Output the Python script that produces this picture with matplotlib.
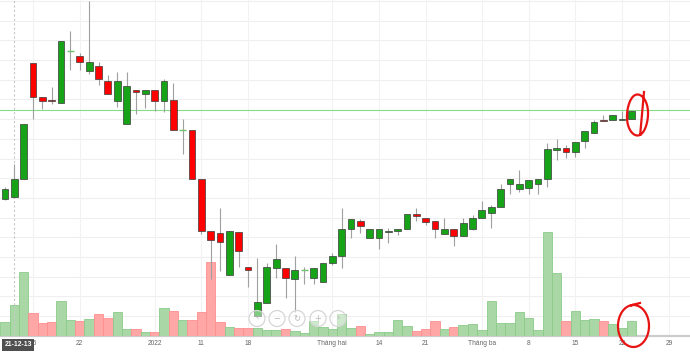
import matplotlib
matplotlib.use("Agg")
import matplotlib.pyplot as plt
import numpy as np
import pandas as pd
from matplotlib.patches import Rectangle, Ellipse
from matplotlib.lines import Line2D

# ---------------- data ----------------
holidays = ["2022-01-03", "2022-01-31", "2022-02-01", "2022-02-02", "2022-02-03", "2022-02-04"]
calendar = [d.strftime("%Y-%m-%d") for d in pd.bdate_range("2021-12-10", "2022-03-31")]
axis_dates = [d for d in calendar if d not in holidays]
dates = axis_dates[:68]  # 2021-12-10 .. 2022-03-23

opens = [26.10, 26.30, 28.07, 39.67, 36.27, 36.03, 35.67, 40.90, 40.43, 38.93,
         39.40, 37.93, 35.93, 33.60, 37.00, 36.63, 37.00, 35.93, 36.00, 33.00,
         33.00, 28.07, 22.90, 22.67, 18.50, 22.80, 19.30, 14.43, 15.73, 19.23,
         19.23, 18.10, 19.00, 18.17, 17.83, 19.67, 20.43, 23.07, 23.93, 22.23,
         22.17, 22.77, 22.90, 23.10, 24.60, 24.17, 23.90, 22.63, 23.07, 22.40,
         23.10, 24.17, 24.73, 25.33, 27.57, 27.07, 27.17, 27.57, 28.07, 31.00,
         31.17, 30.77, 31.93, 32.73, 34.00, 34.00, 34.00, 34.07]
highs = [27.33, 29.60, 33.60, 39.67, 36.27, 37.27, 41.93, 42.87, 40.67, 45.90,
         39.77, 38.47, 38.83, 38.83, 37.00, 37.00, 37.00, 38.07, 37.73, 34.07,
         33.00, 28.07, 22.90, 25.23, 22.90, 22.80, 19.30, 20.23, 19.73, 21.57,
         19.23, 20.43, 19.27, 19.17, 19.67, 20.67, 25.25, 24.10, 24.13, 23.13,
         23.07, 23.17, 23.10, 24.60, 25.17, 24.17, 23.90, 24.17, 23.07, 24.17,
         24.50, 25.90, 25.55, 27.57, 28.07, 29.00, 28.00, 28.07, 31.73, 32.07,
         31.50, 31.83, 32.93, 34.00, 34.50, 34.50, 34.93, 34.90]
lows = [26.00, 26.20, 28.07, 34.07, 35.13, 35.57, 35.67, 39.00, 39.00, 38.60,
        37.50, 36.63, 35.33, 33.60, 34.57, 35.17, 34.93, 34.83, 33.00, 30.60,
        28.07, 22.60, 18.07, 18.93, 18.50, 19.33, 17.27, 14.43, 15.73, 18.23,
        16.23, 14.83, 17.57, 17.60, 17.83, 19.50, 19.17, 22.23, 22.73, 22.23,
        21.10, 21.73, 22.50, 23.10, 23.93, 23.50, 22.23, 22.63, 21.43, 22.40,
        23.00, 24.17, 23.17, 25.33, 26.60, 26.83, 26.60, 26.60, 27.27, 30.00,
        30.17, 30.27, 31.23, 32.73, 33.87, 34.00, 34.00, 34.07]
closes = [27.10, 28.10, 33.60, 36.33, 35.93, 35.87, 41.93, 40.90, 39.77, 39.83,
          38.07, 36.63, 37.93, 37.43, 36.77, 37.00, 35.93, 37.93, 33.00, 33.00,
          28.07, 22.90, 22.03, 21.83, 22.90, 20.93, 18.97, 15.77, 19.30, 20.10,
          18.17, 19.00, 19.00, 19.17, 19.67, 20.40, 23.07, 24.10, 23.43, 23.13,
          23.07, 22.93, 23.10, 24.60, 24.40, 23.83, 23.10, 23.07, 22.43, 23.73,
          24.17, 25.00, 25.33, 27.10, 28.07, 27.60, 28.00, 28.07, 31.07, 31.17,
          30.83, 31.83, 32.93, 33.83, 33.87, 34.50, 34.07, 34.90]
volumes = [342, 768, 1608, 582, 325, 358, 868, 408, 368, 425,
           558, 442, 608, 182, 182, 108, 88, 688, 632, 392,
           392, 595, 1838, 338, 230, 192, 212, 200, 155, 145,
           180, 125, 82, 370, 220, 180, 562, 195, 255, 62,
           90, 90, 388, 255, 125, 165, 370, 165, 225, 275,
           300, 162, 875, 325, 325, 612, 450, 138, 2600, 1575,
           375, 625, 400, 425, 375, 300, 188, 375]  # thousand shares

ref_price = 35.0
hover_date = "2021-12-13"
tooltip_text = "21-12-13"
tick_dates = ["2021-12-15", "2021-12-22", "2022-01-04", "2022-01-11", "2022-01-18",
              "2022-02-07", "2022-02-14", "2022-02-21", "2022-03-01", "2022-03-08",
              "2022-03-15", "2022-03-22", "2022-03-29"]
tick_labels = ["15", "22", "2022", "11", "18", "Tháng hai", "14", "21",
               "Tháng ba", "8", "15", "22", "29"]

# ---------------- figure ----------------
W, H = 690, 352
fig = plt.figure(figsize=(W / 100, H / 100), dpi=100)
pos = [0, 16 / H, 1, 336 / H]
axg = fig.add_axes(pos)
axv = fig.add_axes(pos, sharex=axg)
ax = fig.add_axes(pos, sharex=axg)
for a in (axv, ax):
    a.patch.set_alpha(0)
    a.set_axis_off()

PRICE_LIM = (12.4, 46.0)
axg.set_ylim(*PRICE_LIM)
ax.set_ylim(*PRICE_LIM)
axv.set_ylim(0, 8400)
axg.set_xlim(-0.535, 73.26)

pos_of = {d: i for i, d in enumerate(axis_dates)}
x = np.array([pos_of[d] for d in dates])

# grid
for gy in np.arange(45.9, PRICE_LIM[0], -1.97):
    axg.axhline(gy, color="#efefef", lw=0.8, zorder=0)
tick_pos = [pos_of[d] for d in tick_dates]
for tp in tick_pos:
    axg.axvline(tp, color="#f2f2f2", lw=0.8, zorder=0)
axg.set_xticks(tick_pos)
axg.set_xticklabels(tick_labels, fontsize=4.8, color="#666666", family="Liberation Sans")
axg.tick_params(axis="x", length=0, pad=3.2)
axg.set_yticks([])
for s in ("top", "left", "right"):
    axg.spines[s].set_visible(False)
axg.spines["bottom"].set_color("#cccccc")
axg.spines["bottom"].set_linewidth(1.6)
axg.axhline(ref_price, color="#86dc86", lw=0.8, zorder=1)

GREEN = "#17a317"
RED = "#ff0000"
VGREEN, VGREEN_E = "#a9d8a6", "#8ccb89"
VRED, VRED_E = "#ffa6a6", "#ff8f8f"

up = np.array(closes) >= np.array(opens)

# volume
axv.bar(x, volumes, width=1.0,
        color=[VGREEN if u else VRED for u in up],
        edgecolor=[VGREEN_E if u else VRED_E for u in up], linewidth=0.6, zorder=2)

# crosshair
ax.axvline(pos_of[hover_date], color="#c8c8c8", lw=0.8, ls=(0, (2, 2)), zorder=1)

# candles
bw = 0.72
for xi, o, h, l, c, u in zip(x, opens, highs, lows, closes, up):
    ax.vlines(xi, l, h, color="#a0a0a0", lw=0.8, zorder=2)
    if abs(c - o) < 1e-9:
        ax.hlines(o, xi - bw / 2, xi + bw / 2, color="#6cc36c", lw=1.0, zorder=3)
    else:
        ax.add_patch(Rectangle((xi - bw / 2, min(o, c)), bw, abs(c - o),
                               facecolor=GREEN if u else RED, edgecolor="#3a3a3a",
                               lw=0.5, zorder=3))

# helpers for pixel-positioned decorations
def fx(px):
    return px / W

def fy(py):
    return 1 - py / H

# tooltip on x-axis
fig.text(fx(18), fy(345), tooltip_text, color="white", fontsize=4.9, weight="bold",
         family="Liberation Sans", ha="center", va="center",
         bbox=dict(boxstyle="square,pad=0.35", fc="#4f4f4f", ec="none"))

# navigation buttons
for bx, sym in zip([257, 277, 297, 318, 338], ["‹", "−", "↻", "+", "›"]):
    fig.add_artist(Ellipse((fx(bx), fy(318.5)), 16 / W, 16 / H, transform=fig.transFigure,
                           facecolor=(1, 1, 1, 0.45), edgecolor="#d6d6d6", lw=0.9))
    fig.text(fx(bx), fy(318.5), sym, color="#b5b5b5", fontsize=6, ha="center", va="center",
             family="DejaVu Sans")

# hand-drawn red circles
t = np.linspace(np.radians(-75), np.radians(285), 80)
cx, cy, rx, ry = 637.5, 115, 10.5, 20.5
px1 = cx + rx * np.cos(t) * (1 + 0.04 * np.sin(2 * t))
py1 = cy - ry * np.sin(t)
px1 = np.concatenate([[644], px1])
py1 = np.concatenate([[92], py1])
fig.add_artist(Line2D(fx(px1), fy(py1), transform=fig.transFigure, color="#e81414", lw=1.6))

t2 = np.linspace(np.radians(95), np.radians(460), 80)
cx2, cy2, rx2, ry2 = 633.5, 326, 15.5, 21
px2 = cx2 + rx2 * np.cos(t2)
py2 = cy2 - ry2 * np.sin(t2)
px2 = np.concatenate([px2, [640]])
py2 = np.concatenate([py2, [303]])
fig.add_artist(Line2D(fx(px2), fy(py2), transform=fig.transFigure, color="#e81414", lw=1.6))

fig.savefig("out.png", dpi=100)
